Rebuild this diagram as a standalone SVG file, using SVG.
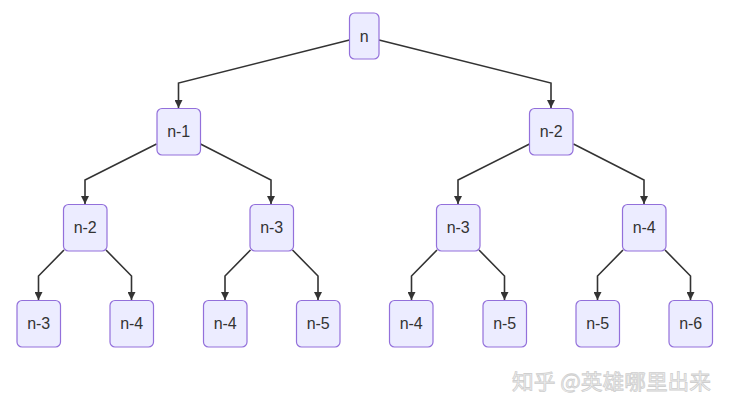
<svg xmlns="http://www.w3.org/2000/svg" width="729" height="412" viewBox="0 0 729 412">
<style>
.node rect{fill:#ECECFF;stroke:#9370DB;stroke-width:1.2}
.node text{font-family:"Liberation Sans",Arial,sans-serif;font-size:16px;fill:#333;text-anchor:middle;dominant-baseline:central}
.edge{fill:none;stroke:#333;stroke-width:1.6}
.wm{font-family:"Noto Sans CJK SC","Liberation Sans",sans-serif;font-size:21px;fill:#f4f4f4;stroke:#cfcfcf;stroke-width:0.8}
</style>
<defs>
<marker id="arr" viewBox="0 0 10 10" refX="10" refY="5" markerWidth="8" markerHeight="8" markerUnits="userSpaceOnUse" orient="auto">
<path d="M0,0 L10,5 L0,10 z" fill="#333"/>
</marker>
</defs>
<rect width="729" height="412" fill="#fff"/>
<g id="edges">
<path class="edge" marker-end="url(#arr)" d="M349.5,40 L178.5,83 L178.5,108"/>
<path class="edge" marker-end="url(#arr)" d="M379,40 L551,83 L551,108"/>
<path class="edge" marker-end="url(#arr)" d="M156.5,144 L85,180 L85,204"/>
<path class="edge" marker-end="url(#arr)" d="M200.5,144 L271,180 L271,204"/>
<path class="edge" marker-end="url(#arr)" d="M529.5,144 L458,180 L458,204"/>
<path class="edge" marker-end="url(#arr)" d="M573.5,144 L644,180 L644,204"/>
<path class="edge" marker-end="url(#arr)" d="M64,250 L38.5,276 L38.5,300"/>
<path class="edge" marker-end="url(#arr)" d="M106,250 L131.5,276 L131.5,300"/>
<path class="edge" marker-end="url(#arr)" d="M250.5,250 L225,276 L225,300"/>
<path class="edge" marker-end="url(#arr)" d="M292.5,250 L318,276 L318,300"/>
<path class="edge" marker-end="url(#arr)" d="M437,250 L411.5,276 L411.5,300"/>
<path class="edge" marker-end="url(#arr)" d="M479,250 L504.5,276 L504.5,300"/>
<path class="edge" marker-end="url(#arr)" d="M623,250 L597.5,276 L597.5,300"/>
<path class="edge" marker-end="url(#arr)" d="M665,250 L690.5,276 L690.5,300"/>
</g>
<g id="n0" class="node"><rect x="349.5" y="13" width="29.5" height="46" rx="5"/><text x="364.2" y="36">n</text></g>
<g id="n1" class="node"><rect x="157" y="108.5" width="43.5" height="46.5" rx="5"/><text x="178.7" y="131.7">n-1</text></g>
<g id="n2" class="node"><rect x="529.5" y="108.5" width="43.5" height="46.5" rx="5"/><text x="551.2" y="131.7">n-2</text></g>
<g id="n3" class="node"><rect x="63.5" y="204.5" width="43.5" height="46.5" rx="5"/><text x="85.2" y="227.7">n-2</text></g>
<g id="n4" class="node"><rect x="250" y="204.5" width="43.5" height="46.5" rx="5"/><text x="271.7" y="227.7">n-3</text></g>
<g id="n5" class="node"><rect x="436.5" y="204.5" width="43.5" height="46.5" rx="5"/><text x="458.2" y="227.7">n-3</text></g>
<g id="n6" class="node"><rect x="622.5" y="204.5" width="43.5" height="46.5" rx="5"/><text x="644.2" y="227.7">n-4</text></g>
<g id="n7" class="node"><rect x="17" y="300.5" width="43.5" height="46.5" rx="5"/><text x="38.7" y="323.7">n-3</text></g>
<g id="n8" class="node"><rect x="110" y="300.5" width="43.5" height="46.5" rx="5"/><text x="131.7" y="323.7">n-4</text></g>
<g id="n9" class="node"><rect x="203.5" y="300.5" width="43.5" height="46.5" rx="5"/><text x="225.2" y="323.7">n-4</text></g>
<g id="n10" class="node"><rect x="296.5" y="300.5" width="43.5" height="46.5" rx="5"/><text x="318.2" y="323.7">n-5</text></g>
<g id="n11" class="node"><rect x="389.5" y="300.5" width="43.5" height="46.5" rx="5"/><text x="411.2" y="323.7">n-4</text></g>
<g id="n12" class="node"><rect x="483" y="300.5" width="43.5" height="46.5" rx="5"/><text x="504.7" y="323.7">n-5</text></g>
<g id="n13" class="node"><rect x="576" y="300.5" width="43.5" height="46.5" rx="5"/><text x="597.7" y="323.7">n-5</text></g>
<g id="n14" class="node"><rect x="669" y="300.5" width="43.5" height="46.5" rx="5"/><text x="690.7" y="323.7">n-6</text></g>
<text class="wm" x="512" y="389" textLength="199" lengthAdjust="spacingAndGlyphs">知乎 @英雄哪里出来</text>
</svg>
